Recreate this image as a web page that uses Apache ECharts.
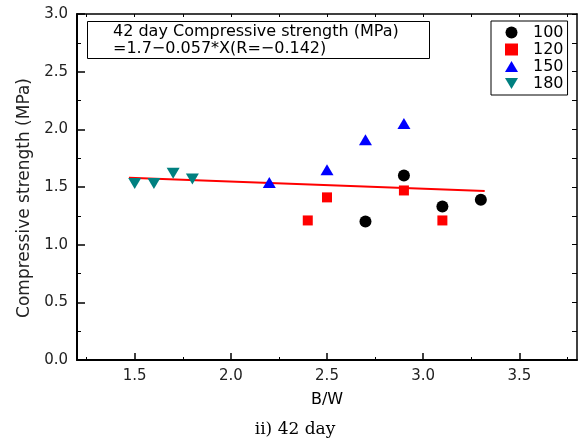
<!DOCTYPE html>
<html>
<head>
<meta charset="utf-8">
<script src="https://cdn.jsdelivr.net/npm/echarts@6/dist/echarts.min.js"></script>
<style>html,body{margin:0;padding:0;background:#fff;}#c{width:579px;height:445px;}</style>
</head>
<body>
<div id="c"></div>
<script>
const seriesNames = ['100', '120', '150', '180'];
const s100 = [[2.7, 1.20], [2.9, 1.60], [3.1, 1.33], [3.3, 1.39]];
const s120 = [[2.4, 1.21], [2.5, 1.41], [2.9, 1.47], [3.1, 1.21]];
const s150 = [[2.2, 1.54], [2.5, 1.65], [2.7, 1.91], [2.9, 2.05]];
const s180 = [[1.5, 1.53], [1.6, 1.53], [1.7, 1.62], [1.8, 1.57]];
const fitLine = [[1.47, 1.58], [3.32, 1.465]];
const xMajorTicks = [1.5, 2.0, 2.5, 3.0, 3.5];
const xMinorTicks = [1.25, 1.75, 2.25, 2.75, 3.25, 3.75];
const xAllTicks = [1.25, 1.5, 1.75, 2.0, 2.25, 2.5, 2.75, 3.0, 3.25, 3.5, 3.75];
const annotationLines = ['42 day Compressive strength (MPa)', '=1.7\u22120.057*X(R=\u22120.142)'];
const yName = 'Compressive strength (MPa)';
const xName = 'B/W';
const caption = 'ii) 42 day';

const font = 'DejaVu Sans';
const chart = echarts.init(document.getElementById('c'), null, {renderer: 'canvas'});
const axisLine = {show: true, lineStyle: {color: '#000', width: 2}};
const downTri = 'path://M0,0 L13,0 L6.5,11 Z';
const upTri = 'path://M6.5,0 L13,11 L0,11 Z';

chart.setOption({
  animation: false,
  backgroundColor: '#fff',
  grid: {left: 77, right: 2, top: 14, bottom: 85},
  legend: {
    data: seriesNames,
    orient: 'vertical',
    left: 491, top: 21,
    width: 76,
    padding: [3, 4, 3, 14],
    itemWidth: 13, itemHeight: 12, itemGap: 0,
    borderColor: '#000', borderWidth: 1,
    textStyle: {fontFamily: font, fontSize: 16, color: '#000', lineHeight: 17, padding: [0, 0, 0, 10]},
    selectedMode: false
  },
  xAxis: [
    {
      type: 'value', min: 1.2, max: 3.8, position: 'bottom',
      name: xName, nameLocation: 'middle', nameGap: 32,
      nameTextStyle: {fontFamily: font, fontSize: 16, color: '#000'},
      axisLine: axisLine,
      axisTick: {show: true, inside: true, length: 7, customValues: xMajorTicks, lineStyle: {color: '#000', width: 1.5}},
      axisLabel: {show: true, margin: 9, customValues: xMajorTicks, fontFamily: font, fontSize: 15, color: '#222',
        formatter: v => v.toFixed(1)},
      splitLine: {show: false}
    },
    {
      type: 'value', min: 1.2, max: 3.8, position: 'bottom',
      axisLine: {show: false},
      axisTick: {show: true, inside: true, length: 3, customValues: xMinorTicks, lineStyle: {color: '#000', width: 1}},
      axisLabel: {show: false},
      splitLine: {show: false}
    },
    {
      type: 'value', min: 1.2, max: 3.8, position: 'top',
      axisLine: {show: true, lineStyle: {color: '#000', width: 1.5}},
      axisTick: {show: true, inside: true, length: 3, customValues: xAllTicks, lineStyle: {color: '#000', width: 1}},
      axisLabel: {show: false},
      splitLine: {show: false}
    }
  ],
  yAxis: [
    {
      type: 'value', min: 0, max: 3, interval: 0.5, position: 'left',
      axisLine: axisLine,
      axisTick: {show: true, inside: true, length: 8, lineStyle: {color: '#000', width: 1.5}},
      minorTick: {show: true, splitNumber: 2, length: 4, lineStyle: {color: '#000', width: 1}},
      axisLabel: {margin: 9, fontFamily: font, fontSize: 15, color: '#222', formatter: v => v.toFixed(1)},
      splitLine: {show: false}
    },
    {
      type: 'value', min: 0, max: 3, interval: 0.25, position: 'right',
      axisLine: {show: true, lineStyle: {color: '#000', width: 1.5}},
      axisTick: {show: true, inside: true, length: 5, lineStyle: {color: '#000', width: 1}},
      axisLabel: {show: false},
      splitLine: {show: false}
    }
  ],
  series: [
    {name: 'fit', type: 'line', data: fitLine, symbol: 'none', lineStyle: {color: '#ff0000', width: 2}, z: 1, silent: true},
    {name: seriesNames[0], type: 'scatter', data: s100, symbol: 'circle', symbolSize: 12, itemStyle: {color: '#000', opacity: 1}, z: 3},
    {name: seriesNames[1], type: 'scatter', data: s120, symbol: 'rect', symbolSize: 10, itemStyle: {color: '#ff0000', opacity: 1}, z: 3},
    {name: seriesNames[2], type: 'scatter', data: s150, symbol: upTri, symbolSize: [13, 11], itemStyle: {color: '#0000ff', opacity: 1}, z: 3},
    {name: seriesNames[3], type: 'scatter', data: s180, symbol: downTri, symbolSize: [13, 11], itemStyle: {color: '#008080', opacity: 1}, z: 3}
  ],
  graphic: [
    {type: 'rect', shape: {x: 87.5, y: 21.5, width: 342, height: 37}, style: {fill: '#fff', stroke: '#000', lineWidth: 1}, z: 10},
    {type: 'text', x: 113, y: 32, style: {text: annotationLines[0], font: '16px "' + font + '"', fill: '#000', textVerticalAlign: 'middle'}, z: 11},
    {type: 'text', x: 113, y: 49, style: {text: annotationLines[1], font: '16px "' + font + '"', fill: '#000', textVerticalAlign: 'middle'}, z: 11},
    {type: 'text', x: 25, y: 198, rotation: Math.PI / 2, style: {text: yName, font: '17px "' + font + '"', fill: '#222', textAlign: 'center', textVerticalAlign: 'middle'}},
    {type: 'text', x: 295, y: 430, style: {text: caption, font: '17px "DejaVu Serif"', fill: '#000', textAlign: 'center', textVerticalAlign: 'middle'}}
  ]
});
</script>
</body>
</html>
